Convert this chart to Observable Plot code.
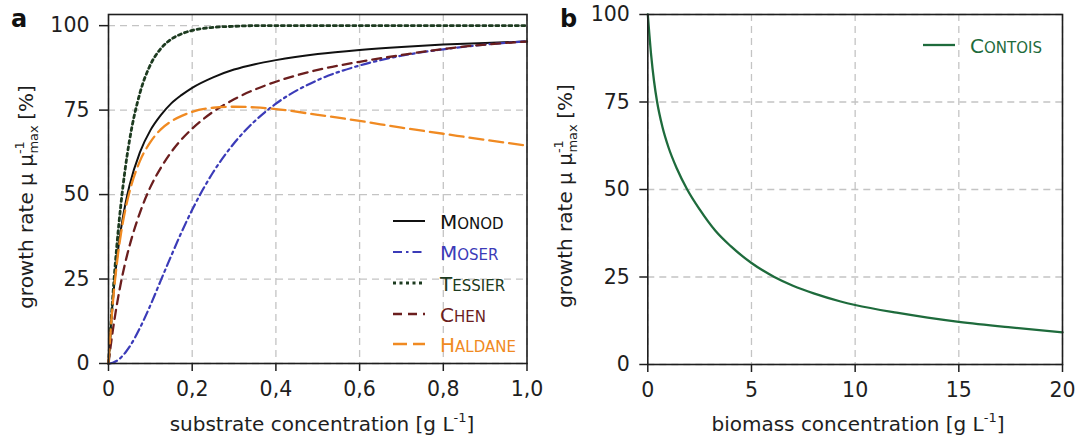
<!DOCTYPE html>
<html><head><meta charset="utf-8">
<script src="https://cdn.jsdelivr.net/npm/d3@7"></script>
<script src="https://cdn.jsdelivr.net/npm/@observablehq/plot@0.6"></script>
<style>
body{margin:0;background:#fff;}
#wrap{position:relative;width:1083px;height:439px;overflow:hidden;background:#fff;font-family:"DejaVu Sans",sans-serif;}
#wrap > svg{position:absolute;top:0;}
</style></head><body><div id="wrap"></div><script>
// ---- data: panel a (substrate concentration, g/L) ----
const S       = [0, 0.005, 0.01, 0.02, 0.03, 0.04, 0.05, 0.075, 0.1, 0.125, 0.15, 0.175, 0.2, 0.25, 0.3, 0.35, 0.4, 0.5, 0.6, 0.7, 0.8, 0.9, 1.0];
const monod   = [0, 10, 18.2, 30.8, 40, 47, 52.6, 62.5, 69, 73.5, 77, 79.5, 81.6, 84.7, 87, 88.6, 89.8, 91.6, 92.8, 93.7, 94.4, 94.9, 95.3];
const moser   = [0, 0.05, 0.2, 0.8, 1.8, 3.2, 4.9, 10.5, 17.2, 24.6, 31.9, 39, 45.5, 56.6, 65.2, 71.8, 76.9, 83.9, 88.2, 91.1, 93, 94.4, 95.4];
const tessier = [0, 10.2, 19.4, 35, 47.5, 57.7, 65.9, 80, 88.4, 93.2, 96, 97.6, 98.6, 99.5, 99.8, 100, 100, 100, 100, 100, 100, 100, 100];
const chen    = [0, 5, 9.5, 17.4, 24.1, 29.8, 34.7, 44.6, 52.2, 57.9, 62.6, 66.4, 69.5, 74.5, 78.2, 81.1, 83.4, 86.9, 89.3, 91.3, 93.1, 94.4, 95.3];
const haldane = [0, 9.5, 17.4, 29.6, 38.6, 45.4, 50.7, 59.9, 65.5, 69.3, 71.7, 73.3, 74.5, 75.7, 76.0, 75.8, 75.3, 73.6, 71.8, 69.8, 68.0, 66.2, 64.5];
const namesA  = ["Monod", "Moser", "Tessier", "Chen", "Haldane"];
const valuesA = [monod, moser, tessier, chen, haldane];
const xTicksA = [0, 0.2, 0.4, 0.6, 0.8, 1.0];
const yTicks  = [0, 25, 50, 75, 100];

// ---- data: panel b (biomass concentration, g/L) ----
const X       = [0, 0.16, 0.3, 0.45, 0.7, 1.0, 1.4, 1.9, 2.5, 3.26, 4, 5, 6.1, 7, 8, 9.3, 10, 12, 13.5, 15, 17.5, 20];
const contois = [100, 88.5, 81, 75, 68, 62, 56, 50, 44.3, 38.2, 33.8, 29, 25, 22.5, 20.3, 18, 17, 14.8, 13.4, 12.2, 10.6, 9.2];
const xTicksB = [0, 5, 10, 15, 20];

// ---- styles ----
const INK = "#1e1e1e";
const GRID = "#c4c4c4";
const FONT = "DejaVu Sans";
const styleA = {
  Monod:   {color: "#111111", dash: null,       width: 2},
  Moser:   {color: "#3b3bb8", dash: "9,4,2.5,4", width: 2.2},
  Tessier: {color: "#1d3b20", dash: "3,3.5",    width: 2.8},
  Chen:    {color: "#6b1e1e", dash: "9,6",      width: 2.3},
  Haldane: {color: "#f08a22", dash: "14,6",     width: 2.3}
};
const contoisColor = "#1e6b3c";

const rowsA = namesA.flatMap((n, k) => S.map((s, i) => ({name: n, s, v: valuesA[k][i]})));
const rowsB = X.map((x, i) => ({x, v: contois[i]}));

const fmtComma = d => d === 0 ? "0" : d.toFixed(1).replace(".", ",");
const gridStyle = {stroke: GRID, strokeOpacity: 1, strokeDasharray: "7,5", strokeWidth: 1.3};
const axisCommon = {fontSize: 20.5, strokeWidth: 1.5, label: null};

const wrap = document.getElementById("wrap");

const plotA = Plot.plot({
  width: 540, height: 439,
  marginLeft: 108, marginRight: 13.5, marginTop: 14, marginBottom: 76,
  style: {fontFamily: FONT, fontSize: "20.5px", color: INK, background: "transparent", overflow: "visible"},
  x: {domain: [0, 1]},
  y: {domain: [0, 103.3]},
  marks: [
    Plot.gridX({ticks: xTicksA, ...gridStyle}),
    Plot.gridY({ticks: yTicks, ...gridStyle}),
    ...namesA.map(n => Plot.line(rowsA.filter(r => r.name === n), {
      x: "s", y: "v", stroke: styleA[n].color, strokeWidth: styleA[n].width,
      strokeDasharray: styleA[n].dash, curve: "monotone-x"
    })),
    Plot.frame({stroke: INK, strokeWidth: 1.6}),
    Plot.axisX({ticks: xTicksA, tickFormat: fmtComma, tickSize: 8, tickPadding: 10, ...axisCommon}),
    Plot.axisY({ticks: yTicks, tickSize: 9, tickPadding: 10, ...axisCommon})
  ]
});
plotA.style.left = "0px";
wrap.appendChild(plotA);

const plotB = Plot.plot({
  width: 543, height: 439,
  marginLeft: 107.3, marginRight: 21, marginTop: 14, marginBottom: 75,
  style: {fontFamily: FONT, fontSize: "20.5px", color: INK, background: "transparent", overflow: "visible"},
  x: {domain: [0, 20]},
  y: {domain: [0, 100]},
  marks: [
    Plot.gridX({ticks: xTicksB, ...gridStyle}),
    Plot.gridY({ticks: yTicks, ...gridStyle}),
    Plot.line(rowsB, {x: "x", y: "v", stroke: contoisColor, strokeWidth: 2.3, curve: "monotone-x"}),
    Plot.frame({stroke: INK, strokeWidth: 1.6}),
    Plot.axisX({ticks: xTicksB, tickSize: 8, tickPadding: 10, ...axisCommon}),
    Plot.axisY({ticks: yTicks, tickSize: 8, tickPadding: 10, ...axisCommon})
  ]
});
plotB.style.left = "540px";
wrap.appendChild(plotB);

// ---- overlay: labels and legends ----
const ov = d3.select(wrap).append("svg")
  .attr("width", 1083).attr("height", 439)
  .style("left", "0px").style("overflow", "visible")
  .attr("font-family", FONT).attr("fill", INK);

function xLabel(cx, baseline, main) {
  const t = ov.append("text").attr("y", baseline).attr("font-size", 20);
  t.append("tspan").text(main);
  t.append("tspan").attr("dy", -9).attr("font-size", 13).text("-1");
  t.append("tspan").attr("dy", 9).text("]");
  const w = t.node().getBBox().width;
  t.attr("x", cx - w / 2);
}
function yLabel(bx, cy) {
  const g = ov.append("g").attr("transform", `translate(${bx},${cy}) rotate(-90)`);
  const t = g.append("text").attr("y", 0).attr("font-size", 20);
  const a = t.append("tspan").attr("x", 0).text("growth rate μ μ");
  const w1 = a.node().getComputedTextLength();
  const sup = t.append("tspan").attr("dy", -9).attr("font-size", 13).text("-1");
  const ws = sup.node().getComputedTextLength();
  const sub = t.append("tspan").attr("x", w1 + 0.5).attr("dy", 14).attr("font-size", 13).text("max");
  const wm = sub.node().getComputedTextLength();
  t.append("tspan").attr("x", w1 + Math.max(ws, wm) + 6).attr("dy", -5).text("[%]");
  const w = t.node().getBBox().width;
  t.attr("transform", `translate(${-w / 2},0)`);
}
xLabel(322, 431, "substrate concentration [g L");
xLabel(858, 431, "biomass concentration [g L");
yLabel(33, 197);
yLabel(572, 196);

ov.append("text").attr("x", 11).attr("y", 27).attr("font-size", 24).attr("font-weight", "bold").attr("fill", "#111").text("a");
ov.append("text").attr("x", 560).attr("y", 27).attr("font-size", 24).attr("font-weight", "bold").attr("fill", "#111").text("b");

function legendItem(x1, x2, tx, y, name, st) {
  ov.append("line").attr("x1", x1).attr("x2", x2).attr("y1", y).attr("y2", y)
    .attr("stroke", st.color).attr("stroke-width", st.width)
    .attr("stroke-dasharray", st.dash);
  const t = ov.append("text").attr("x", tx).attr("y", y + 7.5).attr("fill", st.color);
  t.append("tspan").attr("font-size", 20).text(name[0].toUpperCase());
  t.append("tspan").attr("font-size", 15).text(name.slice(1).toUpperCase());
}
const legendRowsA = [221, 252, 283, 314, 344];
namesA.forEach((n, i) => legendItem(393, 425, 440, legendRowsA[i], n, styleA[n]));
legendItem(923, 955, 970, 45, "Contois", {color: contoisColor, dash: null, width: 2.3});
</script></body></html>
